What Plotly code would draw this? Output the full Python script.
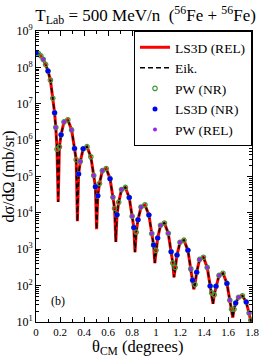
import plotly.graph_objects as go

# ---- data (theta in degrees, log10 of dsigma/dOmega in mb/sr) ----
theta = [0.000, 0.020, 0.040, 0.060, 0.080, 0.100, 0.120, 0.140, 0.155, 0.165, 0.175, 0.185,
         0.195, 0.209, 0.233, 0.265, 0.297, 0.321, 0.335, 0.345,
         0.355, 0.369, 0.393, 0.425, 0.457, 0.481, 0.495, 0.505,
         0.515, 0.529, 0.553, 0.585, 0.617, 0.641, 0.655, 0.665,
         0.675, 0.689, 0.713, 0.745, 0.777, 0.801, 0.815, 0.825,
         0.835, 0.850, 0.875, 0.908, 0.941, 0.965, 0.980, 0.990,
         1.000, 1.014, 1.038, 1.070, 1.102, 1.126, 1.140, 1.150,
         1.160, 1.175, 1.200, 1.233, 1.266, 1.290, 1.305, 1.315,
         1.325, 1.339, 1.363, 1.395, 1.427, 1.451, 1.465, 1.475,
         1.485, 1.500, 1.525, 1.558, 1.591, 1.615, 1.630, 1.640,
         1.650, 1.664, 1.688, 1.720, 1.752, 1.776, 1.790, 1.800]
log_xs = [8.40, 8.38, 8.32, 8.22, 8.08, 7.90, 7.65, 7.15, 6.75, 6.35, 5.75, 4.30,
          5.81, 6.15, 6.50, 6.56, 6.28, 5.77, 5.46, 3.77,
          5.07, 5.41, 5.76, 5.82, 5.54, 5.03, 4.72, 3.55,
          4.47, 4.81, 5.16, 5.22, 4.94, 4.43, 4.12, 3.20,
          3.95, 4.29, 4.64, 4.70, 4.42, 3.91, 3.60, 2.92,
          3.47, 3.81, 4.16, 4.22, 3.94, 3.43, 3.12, 2.62,
          2.97, 3.31, 3.66, 3.72, 3.44, 2.93, 2.62, 2.23,
          2.50, 2.84, 3.19, 3.25, 2.97, 2.46, 2.15, 1.90,
          2.03, 2.37, 2.72, 2.78, 2.50, 1.99, 1.80, 1.50,
          1.75, 1.98, 2.28, 2.34, 2.06, 1.60, 1.35, 1.12,
          1.35, 1.52, 1.68, 1.72, 1.55, 1.25, 1.05, 0.90]
xs = [10 ** v for v in log_xs]

# indices of the curve samples where the point-wise calculations are shown
pw_nr_idx = [i for i in range(len(theta)) if i not in (11, 19, 27, 35, 43, 51, 59, 67, 75, 83, 91)]
ls3d_nr_idx = [0, 5, 8, 13, 17, 20, 22, 26, 28, 32, 36, 40, 42, 45, 48, 50, 53, 57, 61, 64,
               66, 69, 73, 77, 80, 85, 88]
pw_rel_idx = [3, 9, 14, 16, 21, 25, 30, 33, 38, 41, 46, 49, 54, 56, 62, 65, 70, 72, 78, 81, 86, 89]

pw_nr_t = [theta[i] for i in pw_nr_idx]
pw_nr_v = [xs[i] for i in pw_nr_idx]
ls3d_nr_t = [theta[i] for i in ls3d_nr_idx]
ls3d_nr_v = [xs[i] for i in ls3d_nr_idx]
pw_rel_t = [theta[i] for i in pw_rel_idx]
pw_rel_v = [xs[i] for i in pw_rel_idx]

y_tick_exp = [1, 2, 3, 4, 5, 6, 7, 8, 9]
x_tick_vals = [0, 0.2, 0.4, 0.6, 0.8, 1.0, 1.2, 1.4, 1.6, 1.8]
x_tick_text = ["0", "0.2", "0.4", "0.6", "0.8", "1", "1.2", "1.4", "1.6", "1.8"]

FONT = "Liberation Serif, Times New Roman, serif"

fig = go.Figure()
fig.add_trace(go.Scatter(x=theta, y=xs, mode="lines", name="LS3D (REL)",
                         line=dict(color="#ff0000", width=3), legendrank=1))
fig.add_trace(go.Scatter(x=theta, y=xs, mode="lines", name="Eik.",
                         line=dict(color="black", width=1.5, dash="5px,3px"), legendrank=2))
fig.add_trace(go.Scatter(x=pw_nr_t, y=pw_nr_v, mode="markers", name="PW (NR)",
                         marker=dict(symbol="circle-open", size=4.5, color="#3c9a3c",
                                     line=dict(width=1.2, color="#3c9a3c")), legendrank=3))
fig.add_trace(go.Scatter(x=ls3d_nr_t, y=ls3d_nr_v, mode="markers", name="LS3D (NR)",
                         marker=dict(symbol="circle", size=5, color="#0000ff"), legendrank=4))
fig.add_trace(go.Scatter(x=pw_rel_t, y=pw_rel_v, mode="markers", name="PW (REL)",
                         marker=dict(symbol="circle", size=4, color="#a020f0"), legendrank=5))

fig.add_annotation(x=0.18, y=1.58, xref="x", yref="y", text="(b)", showarrow=False,
                   font=dict(family=FONT, size=12, color="black"))
# x-axis title
fig.add_annotation(x=0.47, y=-0.085, xref="paper", yref="paper", xanchor="center",
                   yanchor="middle", text="θ<sub>CM</sub> (degrees)", showarrow=False,
                   font=dict(family=FONT, size=16.5, color="black"))

fig.update_layout(
    template="none",
    width=260, height=356,
    margin=dict(l=36, r=8, t=31, b=34, pad=0),
    paper_bgcolor="white", plot_bgcolor="white",
    font=dict(family=FONT, color="black"),
    showlegend=True,
    title=dict(text="T<sub>Lab</sub> = 500 MeV/n  (<sup>56</sup>Fe + <sup>56</sup>Fe)",
               x=0.56, xanchor="center", xref="container", y=0.958, yanchor="middle",
               font=dict(family=FONT, size=17, color="black")),
    legend=dict(x=1, xanchor="right", y=1, yanchor="top",
                bgcolor="white", bordercolor="black", borderwidth=1,
                font=dict(family=FONT, size=13.5, color="black"),
                tracegroupgap=0, itemwidth=30),
)
fig.update_xaxes(range=[0, 1.8], tickvals=x_tick_vals, ticktext=x_tick_text,
                 ticks="inside", ticklen=5, tickwidth=1, tickcolor="black",
                 showline=True, linecolor="black", linewidth=1, mirror="allticks",
                 showgrid=False, zeroline=False, automargin=False,
                 minor=dict(ticks="inside", ticklen=3, dtick=0.1, tickcolor="black"),
                 tickfont=dict(family=FONT, size=11))
fig.update_yaxes(type="log", range=[1, 9],
                 tickvals=[10 ** e for e in y_tick_exp],
                 ticktext=["10<sup>%d</sup>" % e for e in y_tick_exp],
                 ticks="inside", ticklen=5, tickwidth=1, tickcolor="black",
                 showline=True, linecolor="black", linewidth=1, mirror="allticks",
                 showgrid=False, zeroline=False, automargin=False,
                 minor=dict(ticks="inside", ticklen=3, tickcolor="black", dtick="D1"),
                 tickfont=dict(family=FONT, size=12),
                 title=dict(text="dσ/dΩ (mb/sr)", font=dict(family=FONT, size=16), standoff=0))

fig.write_html("out.html", config={"displayModeBar": False},
               post_script="document.body.style.margin='0px';")
